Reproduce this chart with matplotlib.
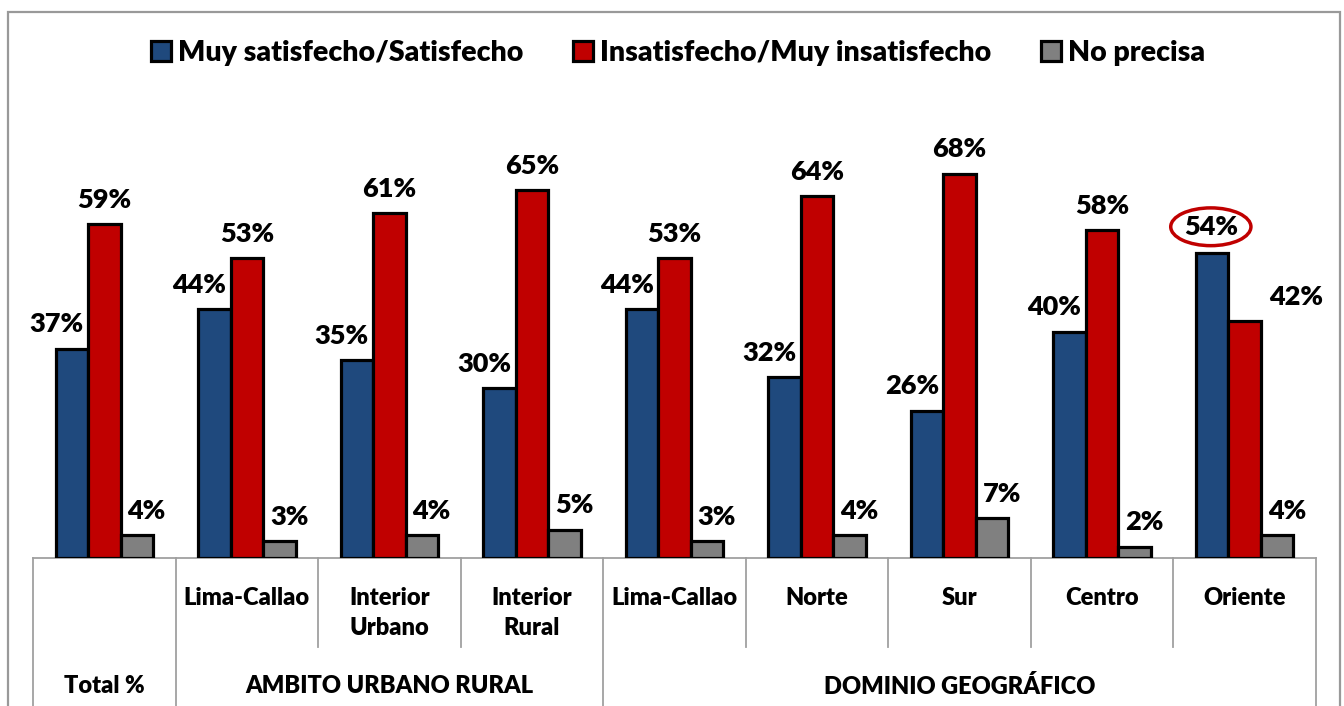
import matplotlib
matplotlib.use("Agg")
import matplotlib.pyplot as plt
from matplotlib.patches import Rectangle

plt.rcParams['font.family'] = ['Lato', 'DejaVu Sans']
plt.rcParams['font.weight'] = 'heavy'

categories = ["", "Lima-Callao", "Interior\nUrbano", "Interior\nRural",
              "Lima-Callao", "Norte", "Sur", "Centro", "Oriente"]
super_groups = ["Total %", "AMBITO URBANO RURAL", "DOMINIO GEOGRÁFICO"]
super_spans = [(0, 1), (1, 4), (4, 9)]
series_names = ["Muy satisfecho/Satisfecho", "Insatisfecho/Muy insatisfecho", "No precisa"]
satisfecho = [37, 44, 35, 30, 44, 32, 26, 40, 54]
insatisfecho = [59, 53, 61, 65, 53, 64, 68, 58, 42]
no_precisa = [4, 3, 4, 5, 3, 4, 7, 2, 4]
colors = ["#1F497D", "#C00000", "#808080"]

fig = plt.figure(figsize=(13.44, 7.06), dpi=100)
W, H = 1344, 706
ax = fig.add_axes([33 / W, 1 - 558 / H, (1316 - 33) / W, (558 - 100) / H])

bw = 0.228
values = [satisfecho, insatisfecho, no_precisa]
# label offsets (points) for each series, Excel style
label_dx = [-11, 0, 7]
for j, vals in enumerate(values):
    xs = [i + (j - 1) * bw for i in range(len(categories))]
    ax.bar(xs, vals, bw, color=colors[j], edgecolor="black", linewidth=2.3,
           label=series_names[j], zorder=3)
    for i, (x, v) in enumerate(zip(xs, vals)):
        dx = label_dx[j]
        dy = 9
        kw = {}
        if i == 8 and j == 0:
            dx, dy = -1, 10
            kw = dict(bbox=dict(boxstyle="ellipse,pad=0.05", fc="none",
                                ec="#C00000", lw=2.5))
        elif i == 8 and j == 1:
            dx, dy = 37, 8
        ax.annotate(f"{v}%", (x, v), xytext=(dx, dy), textcoords="offset points",
                    ha="center", va="bottom", fontsize=19.5, **kw)

ax.set_xlim(-0.5, len(categories) - 0.5)
ax.set_ylim(0, 81)
ax.axis("off")

# multi-level category axis
tr = ax.get_xaxis_transform()
line_kw = dict(color="#A0A0A0", lw=1.3, transform=tr, clip_on=False)
ax.plot([-0.5, len(categories) - 0.5], [0, 0], zorder=2, **line_kw)
inner_bottom = (558 - 647) / 458
outer_bottom = (558 - 720) / 458
bounds = [s for s, e in super_spans] + [super_spans[-1][1]]
for k in range(len(categories) + 1):
    yb = outer_bottom if k in bounds else inner_bottom
    ax.plot([k - 0.5, k - 0.5], [0, yb], **line_kw)

for i, c in enumerate(categories):
    ax.text(i, (558 - 587) / 458, c, transform=tr, ha="center", va="top",
            fontsize=17, linespacing=1.45)
for name, (s, e) in zip(super_groups, super_spans):
    ax.text((s + e - 1) / 2, (558 - 686) / 458, name, transform=tr,
            ha="center", va="center", fontsize=17)

leg = fig.legend(loc="center", bbox_to_anchor=(678 / W, 1 - 53 / H), ncol=3,
                 frameon=False, fontsize=20.5, handlelength=0.7, handleheight=0.7,
                 handletextpad=0.25, columnspacing=1.75)
for h in leg.legend_handles:
    h.set_linewidth(2.3)

fig.patches.append(Rectangle((8 / W, -0.1), (1340 - 8) / W, 1.1 - 12 / H,
                             transform=fig.transFigure, fill=False,
                             ec="#999999", lw=1.6))

plt.savefig("out.png", dpi=100)
